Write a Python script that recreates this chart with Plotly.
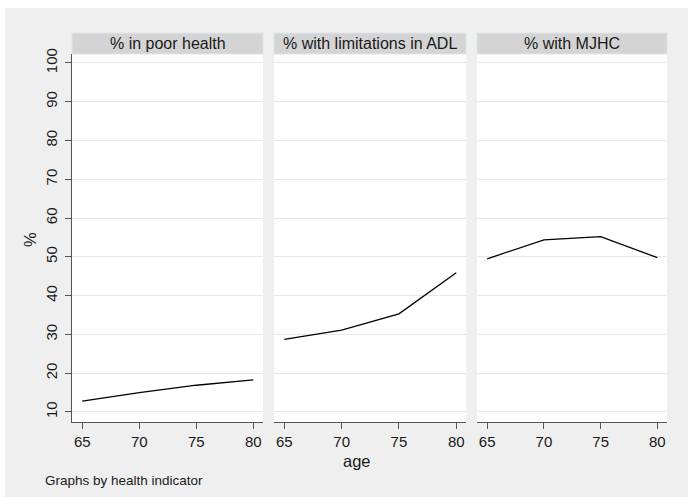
import plotly.graph_objects as go

# Age groups and share (%) for each health indicator
ages = [65, 70, 75, 80]
panel_titles = ["% in poor health", "% with limitations in ADL", "% with MJHC"]
poor_health = [12.8, 15.0, 16.9, 18.3]
adl_limits = [28.7, 31.1, 35.3, 45.9]
mjhc = [49.5, 54.4, 55.2, 49.8]
y_ticks = [10, 20, 30, 40, 50, 60, 70, 80, 90, 100]
x_ticks = [65, 70, 75, 80]

W, H = 688, 504
FONT = "Liberation Sans, Arial, sans-serif"
AXIS_COL = "#555555"
GRID_COL = "#E8E8E8"
BG = "#EFEFEF"


def fx(px):
    return px / W


def fy(py):
    return 1 - py / H


# panel pixel extents (left, right); shared top/bottom
panels_px = [(72, 263), (274, 466), (477, 667)]
top_px, bottom_px = 54, 422
strip_top_px = 33

series = [poor_health, adl_limits, mjhc]

fig = go.Figure()
for i, vals in enumerate(series):
    suffix = "" if i == 0 else str(i + 1)
    fig.add_trace(go.Scatter(
        x=ages, y=vals, mode="lines",
        line=dict(color="black", width=1.3),
        xaxis="x" + suffix, yaxis="y" + suffix,
        showlegend=False, hoverinfo="skip",
    ))

layout = dict(
    width=W, height=H,
    margin=dict(l=0, r=0, t=0, b=0),
    paper_bgcolor=BG, plot_bgcolor="white",
    font=dict(family=FONT, color="#1a1a1a"),
    showlegend=False,
)

shapes = []
annotations = []
for i, (l, r) in enumerate(panels_px):
    suffix = "" if i == 0 else str(i + 1)
    layout["xaxis" + suffix] = dict(
        domain=[fx(l), fx(r)], range=[64.1, 80.85],
        anchor="y" + suffix,
        tickmode="array", tickvals=x_ticks,
        ticks="outside", ticklen=6, tickwidth=1.2, tickcolor=AXIS_COL,
        showline=True, linecolor=AXIS_COL, linewidth=1.3,
        showgrid=False, zeroline=False,
        tickfont=dict(size=15, family=FONT, color="#1a1a1a"),
        automargin=False, fixedrange=True,
    )
    yax = dict(
        domain=[fy(bottom_px), fy(top_px)], range=[7.42, 102.3],
        anchor="x" + suffix,
        tickmode="array", tickvals=y_ticks,
        showgrid=True, gridcolor=GRID_COL, gridwidth=1,
        zeroline=False, automargin=False, fixedrange=True,
    )
    if i == 0:
        yax.update(
            ticks="outside", ticklen=6, tickwidth=1.2, tickcolor=AXIS_COL,
            showline=True, linecolor=AXIS_COL, linewidth=1.3,
            tickangle=-90, ticklabelstandoff=2,
            tickfont=dict(size=15, family=FONT, color="#1a1a1a"),
        )
    else:
        yax.update(showticklabels=False, ticks="", showline=False)
    layout["yaxis" + suffix] = yax

    # panel header strip
    shapes.append(dict(
        type="rect", xref="paper", yref="paper",
        x0=fx(l), x1=fx(r), y0=fy(top_px), y1=fy(strip_top_px),
        fillcolor="#D4D4D4", line=dict(color="#DCE5EA", width=1),
        layer="above",
    ))
    annotations.append(dict(
        text=panel_titles[i], xref="paper", yref="paper",
        x=fx((l + r) / 2), y=fy((strip_top_px + top_px) / 2),
        xanchor="center", yanchor="middle", showarrow=False,
        font=dict(size=16, family=FONT, color="#1a1a1a"),
    ))

# white border around the graph region
for x0, x1, y0, y1 in [(0, 5, 0, H), (0, W, 0, 8), (0, W, 497, H)]:
    shapes.append(dict(
        type="rect", xref="paper", yref="paper",
        x0=fx(x0), x1=fx(x1), y0=fy(y1), y1=fy(y0),
        fillcolor="white", line=dict(width=0), layer="above",
    ))

annotations += [
    dict(text="%", xref="paper", yref="paper", x=fx(30), y=fy(240),
         xanchor="center", yanchor="middle", showarrow=False, textangle=-90,
         font=dict(size=16.5, family=FONT, color="#1a1a1a")),
    dict(text="age", xref="paper", yref="paper", x=fx(357), y=fy(461),
         xanchor="center", yanchor="middle", showarrow=False,
         font=dict(size=16.5, family=FONT, color="#1a1a1a")),
    dict(text="Graphs by health indicator", xref="paper", yref="paper",
         x=fx(43), y=fy(480), xanchor="left", yanchor="middle",
         showarrow=False, font=dict(size=13.5, family=FONT, color="#1a1a1a")),
]

layout["shapes"] = shapes
layout["annotations"] = annotations
fig.update_layout(**layout)

fig.write_html("out.html", config={"displayModeBar": False})
